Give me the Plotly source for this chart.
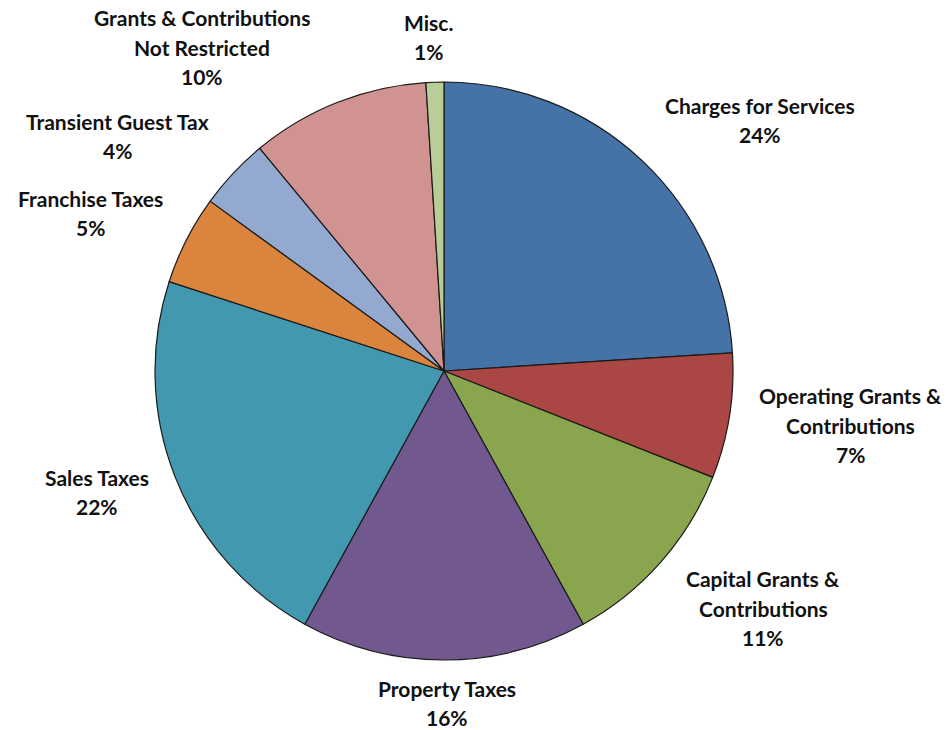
import plotly.graph_objects as go

# Revenue sources (percent of total)
categories = [
    "Charges for Services",
    "Operating Grants & Contributions",
    "Capital Grants & Contributions",
    "Property Taxes",
    "Sales Taxes",
    "Franchise Taxes",
    "Transient Guest Tax",
    "Grants & Contributions Not Restricted",
    "Misc.",
]
values = [24, 7, 11, 16, 22, 5, 4, 10, 1]

# Label lines for each slice (name split over lines)
label_lines = [
    ["Charges for Services"],
    ["Operating Grants &", "Contributions"],
    ["Capital Grants &", "Contributions"],
    ["Property Taxes"],
    ["Sales Taxes"],
    ["Franchise Taxes"],
    ["Transient Guest Tax"],
    ["Grants & Contributions", "Not Restricted"],
    ["Misc."],
]

colors = ["#4572A7", "#AA4643", "#89A54E", "#71588F", "#4198AF",
          "#DB843D", "#93A9CF", "#D19392", "#B9CD96"]

W, H = 950, 730
cx, cy, r = 444, 371, 289

# Label block centres in pixels
label_pos = [(760, 120), (850, 425), (763, 608), (447, 703), (97, 492),
             (90, 213), (117, 136), (202, 47), (428, 37)]

fig = go.Figure(go.Pie(
    labels=categories,
    values=values,
    sort=False,
    direction="clockwise",
    rotation=0,
    marker=dict(colors=colors, line=dict(color="#1a1a1a", width=1.2)),
    textinfo="none",
    hoverinfo="label+percent",
    domain=dict(x=[(cx - r) / W, (cx + r) / W],
                y=[1 - (cy + r) / H, 1 - (cy - r) / H]),
    showlegend=False,
))

total = sum(values)
line_gap = 29.5
annotations = []
for lines, v, (px, py) in zip(label_lines, values, label_pos):
    all_lines = lines + [f"{round(100 * v / total)}%"]
    n = len(all_lines)
    for i, t in enumerate(all_lines):
        yy = py + (i - (n - 1) / 2) * line_gap
        annotations.append(dict(
            x=px / W, y=1 - yy / H, xref="paper", yref="paper",
            text=t, showarrow=False, xanchor="center", yanchor="middle",
            font=dict(family="Lato", size=21, color="#111111", weight="bold"),
        ))

fig.update_layout(
    width=W, height=H,
    margin=dict(l=0, r=0, t=0, b=0),
    paper_bgcolor="white",
    plot_bgcolor="white",
    annotations=annotations,
)

fig.write_html("out.html")
